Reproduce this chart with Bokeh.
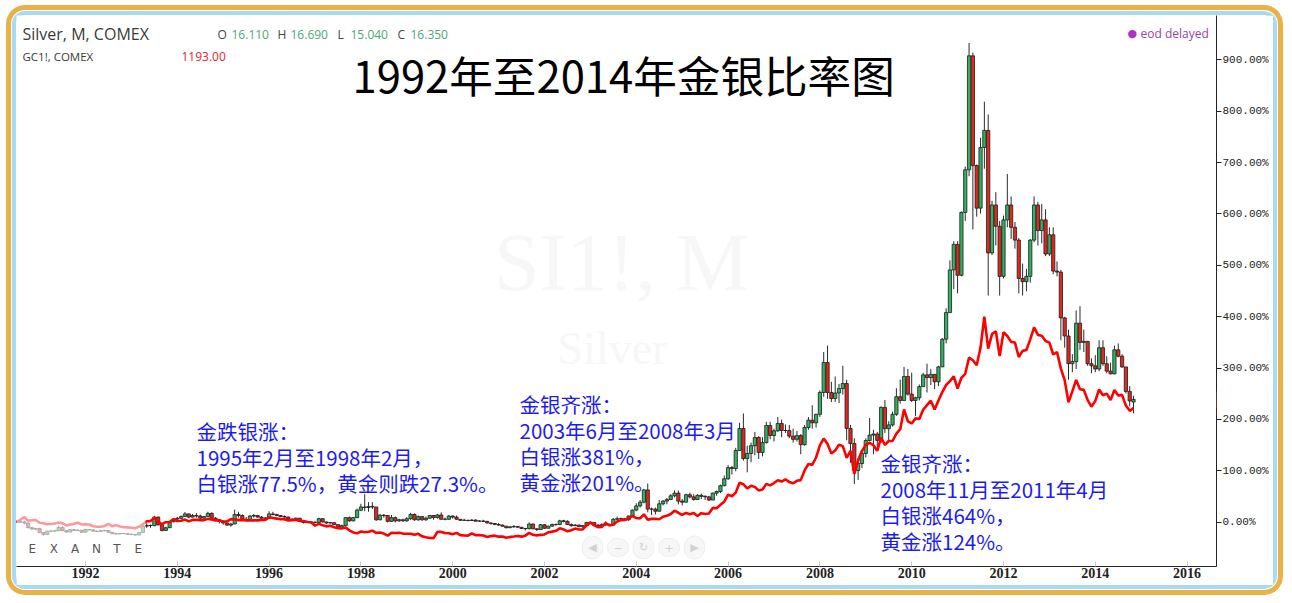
from bokeh.plotting import figure
from bokeh.models import (Range1d, FixedTicker, PrintfTickFormatter, Label,
                          BoxAnnotation, ColumnDataSource)
from bokeh.embed import file_html
from bokeh.resources import INLINE

# ---------------- DATA (monthly, Jul 1990 .. Nov 2014) ----------------
start_year, start_month = 1990, 7
silver_first_open = 4.90
silver_last_open = 16.11
silver_close = [
    4.822, 4.85, 4.75, 4.30, 4.18, 4.22,
    3.85, 3.68, 3.98, 3.98, 4.03, 4.33, 4.03, 3.90, 4.12, 4.05, 4.07, 3.88,
    4.14, 4.10, 3.98, 3.96, 4.03, 4.04, 3.88, 3.74, 3.72, 3.76, 3.75, 3.68,
    3.67, 3.62, 3.86, 4.45, 4.52, 4.50, 5.30, 4.58, 4.05, 4.30, 4.87, 5.12,
    5.19, 5.36, 5.60, 5.30, 5.45, 5.40, 5.20, 5.35, 5.65, 5.20, 5.05, 4.90,
    4.75, 4.55, 4.65, 5.55, 5.45, 5.10, 5.05, 5.40, 5.45, 5.30, 5.20, 5.20,
    5.60, 5.55, 5.45, 5.35, 5.30, 5.10, 5.05, 5.20, 4.95, 4.80, 4.85, 4.80,
    4.80, 5.15, 4.85, 4.75, 4.78, 4.60, 4.35, 4.50, 5.25, 4.95, 5.25, 5.95,
    6.25, 6.20, 6.30, 6.25, 5.05, 5.48, 5.45, 4.90, 5.25, 4.95, 5.05, 4.95,
    5.15, 5.55, 5.05, 5.35, 5.05, 5.20, 5.45, 5.27, 5.50, 5.10, 5.10, 5.40,
    5.30, 5.10, 5.00, 5.00, 4.98, 5.02, 4.92, 4.93, 4.90, 4.75, 4.70, 4.60,
    4.55, 4.45, 4.30, 4.39, 4.42, 4.35, 4.23, 4.21, 4.65, 4.20, 4.13, 4.58,
    4.25, 4.45, 4.60, 4.60, 4.95, 4.90, 4.60, 4.50, 4.55, 4.40, 4.50, 4.80,
    4.80, 4.55, 4.45, 4.62, 4.55, 4.55, 5.10, 5.15, 5.15, 5.05, 5.40, 5.96,
    6.35, 6.70, 7.85, 6.05, 6.05, 5.85, 6.55, 6.80, 6.95, 7.30, 7.55, 6.80,
    6.70, 7.40, 7.20, 6.95, 7.35, 7.25, 7.20, 6.90, 7.55, 7.70, 8.25, 8.90,
    9.95, 9.86, 11.55, 13.62, 10.80, 11.27, 12.00, 12.77, 11.37, 12.30, 13.90, 12.96,
    13.40, 14.09, 13.43, 13.43, 12.90, 12.60, 12.95, 12.10, 13.71, 14.40, 14.15, 14.95,
    17.00, 19.81, 17.00, 16.43, 16.95, 17.37, 17.84, 13.62, 12.21, 9.67, 10.33, 11.27,
    12.49, 13.00, 13.10, 12.50, 15.60, 13.60, 13.95, 14.95, 16.60, 16.25, 18.50, 16.85,
    16.25, 16.50, 17.55, 18.65, 18.40, 18.70, 18.00, 19.40, 22.00, 24.50, 28.50, 30.90,
    28.00, 33.90, 37.90, 48.60, 38.30, 34.30, 40.00, 41.60, 30.10, 34.60, 32.60, 27.90,
    33.20, 34.60, 32.50, 31.30, 27.70, 27.40, 27.90, 31.30, 34.60, 32.20, 33.20, 30.00,
    31.80, 28.40, 28.30, 24.00, 22.30, 19.70, 19.90, 23.50, 21.70, 21.80, 19.70, 19.50,
    19.20, 21.20, 19.70, 19.00, 18.75, 21.00, 20.40, 19.40, 17.10, 16.20, 16.35,
]
silver_high = [
    5.00, 5.10, 4.98, 4.78, 4.40, 4.30,
    4.30, 3.90, 4.02, 4.10, 4.10, 4.50, 4.45, 4.05, 4.20, 4.20, 4.15, 4.10,
    4.20, 4.20, 4.15, 4.05, 4.10, 4.10, 4.08, 3.90, 3.85, 3.80, 3.80, 3.78,
    3.75, 3.70, 3.90, 4.60, 4.70, 4.60, 5.42, 5.35, 4.60, 4.40, 4.95, 5.20,
    5.32, 5.45, 5.78, 5.65, 5.60, 5.68, 5.55, 5.40, 5.80, 5.75, 5.30, 5.10,
    4.95, 4.80, 4.75, 6.00, 5.80, 5.55, 5.30, 5.50, 5.60, 5.50, 5.40, 5.30,
    5.85, 5.80, 5.60, 5.50, 5.45, 5.35, 5.20, 5.25, 5.20, 4.95, 4.95, 4.90,
    4.95, 5.25, 5.20, 4.85, 4.85, 4.80, 4.60, 4.60, 5.30, 5.35, 5.30, 6.10,
    6.55, 7.45, 6.70, 6.70, 6.25, 5.60, 5.60, 5.50, 5.50, 5.35, 5.15, 5.15,
    5.30, 5.70, 5.65, 5.45, 5.40, 5.35, 5.50, 5.40, 5.60, 5.75, 5.25, 5.50,
    5.45, 5.45, 5.10, 5.15, 5.05, 5.10, 5.10, 5.00, 5.05, 4.95, 4.80, 4.75,
    4.75, 4.60, 4.45, 4.45, 4.55, 4.45, 4.35, 4.30, 4.80, 4.70, 4.25, 4.65,
    4.65, 4.50, 4.70, 4.70, 5.05, 5.05, 5.00, 4.70, 4.65, 4.60, 4.55, 4.85,
    4.90, 4.80, 4.65, 4.70, 4.90, 4.70, 5.20, 5.35, 5.25, 5.20, 5.45, 6.00,
    6.60, 6.90, 7.95, 8.45, 6.20, 6.20, 6.90, 6.90, 7.10, 7.45, 7.80, 7.80,
    7.00, 7.50, 7.60, 7.45, 7.45, 7.50, 7.35, 7.30, 7.60, 7.80, 8.35, 9.20,
    10.20, 10.10, 11.80, 14.15, 15.03, 12.00, 12.30, 13.30, 12.90, 12.80, 14.25, 14.25,
    13.60, 14.70, 14.45, 14.00, 13.95, 13.60, 13.40, 13.10, 13.95, 14.70, 15.80, 15.00,
    17.20, 20.80, 21.40, 18.00, 18.50, 17.80, 19.50, 18.20, 13.95, 12.70, 10.80, 11.60,
    12.70, 14.60, 13.50, 13.30, 15.70, 16.30, 14.30, 15.20, 17.40, 18.20, 19.40, 19.20,
    18.85, 16.60, 17.75, 18.85, 19.70, 19.20, 18.70, 19.50, 22.10, 24.90, 29.40, 31.20,
    31.20, 34.00, 38.20, 49.80, 48.90, 38.40, 40.90, 44.30, 43.10, 35.00, 35.80, 33.10,
    33.60, 37.50, 35.40, 33.00, 31.50, 29.10, 28.60, 31.40, 35.40, 34.90, 34.70, 34.20,
    32.50, 32.50, 29.30, 28.50, 24.10, 22.90, 20.60, 24.70, 25.10, 22.90, 21.80, 20.20,
    20.50, 21.90, 21.90, 20.40, 19.80, 21.40, 21.60, 20.60, 19.40, 17.60, 16.69,
]
silver_low = [
    4.75, 4.75, 4.60, 4.25, 4.10, 4.05,
    3.80, 3.55, 3.60, 3.90, 3.95, 3.98, 4.00, 3.85, 3.85, 4.00, 4.00, 3.85,
    3.85, 4.05, 3.95, 3.90, 3.95, 3.95, 3.85, 3.70, 3.65, 3.70, 3.70, 3.65,
    3.60, 3.55, 3.60, 3.85, 4.30, 4.30, 4.45, 4.50, 3.95, 4.00, 4.30, 4.80,
    5.00, 5.10, 5.30, 5.20, 5.25, 5.25, 5.15, 5.15, 5.30, 5.15, 5.00, 4.70,
    4.60, 4.50, 4.40, 4.65, 5.25, 5.05, 4.95, 5.00, 5.25, 5.25, 5.15, 5.05,
    5.15, 5.45, 5.40, 5.30, 5.25, 5.05, 4.95, 5.00, 4.90, 4.70, 4.75, 4.70,
    4.70, 4.75, 4.80, 4.65, 4.70, 4.55, 4.20, 4.30, 4.50, 4.85, 4.90, 5.20,
    5.85, 5.85, 5.80, 6.05, 4.95, 5.00, 5.25, 4.80, 4.85, 4.80, 4.85, 4.85,
    4.85, 5.05, 4.95, 4.95, 4.95, 4.95, 5.15, 5.05, 5.15, 5.05, 5.00, 5.05,
    5.15, 5.05, 4.95, 4.95, 4.90, 4.95, 4.90, 4.85, 4.85, 4.70, 4.60, 4.55,
    4.50, 4.40, 4.25, 4.30, 4.30, 4.30, 4.20, 4.05, 4.15, 4.15, 4.00, 4.10,
    4.20, 4.25, 4.40, 4.50, 4.55, 4.80, 4.60, 4.40, 4.45, 4.35, 4.30, 4.40,
    4.75, 4.55, 4.35, 4.45, 4.50, 4.50, 4.55, 5.05, 5.00, 4.95, 4.95, 5.35,
    5.85, 6.20, 6.60, 5.75, 5.50, 5.55, 5.85, 6.40, 6.50, 6.90, 7.15, 6.50,
    6.40, 6.70, 7.05, 6.85, 6.90, 7.00, 6.90, 6.80, 6.90, 7.30, 7.55, 8.20,
    8.80, 9.30, 9.60, 11.55, 10.60, 9.50, 10.45, 11.10, 10.75, 11.00, 12.20, 12.60,
    12.40, 13.30, 12.80, 13.20, 12.70, 12.30, 12.40, 11.20, 12.00, 13.50, 13.60, 13.70,
    14.70, 16.60, 16.40, 16.10, 16.10, 16.00, 16.80, 12.50, 10.40, 8.40, 8.80, 9.90,
    10.90, 12.40, 11.20, 11.70, 12.25, 13.20, 12.50, 13.80, 14.80, 15.95, 16.20, 16.70,
    16.10, 14.80, 16.25, 17.50, 17.00, 17.70, 17.30, 17.60, 19.40, 21.60, 24.80, 26.70,
    26.30, 27.90, 33.10, 37.30, 32.30, 33.50, 33.80, 38.00, 26.10, 29.90, 30.80, 26.10,
    27.70, 32.50, 31.40, 30.50, 26.30, 26.10, 26.50, 27.30, 31.10, 30.80, 31.00, 29.80,
    29.80, 28.10, 27.90, 21.90, 21.20, 18.20, 18.90, 19.20, 21.00, 20.80, 19.50, 18.80,
    18.90, 19.00, 19.50, 18.80, 18.70, 18.70, 20.30, 19.30, 16.90, 15.70, 15.04,
]
gold_close = [
    370.0, 387, 408, 380, 384, 386,
    366, 363, 355, 357, 360, 368, 362, 347, 354, 358, 366, 353,
    354, 353, 341, 337, 337, 343, 357, 340, 349, 339, 334, 333,
    330, 327, 337, 355, 377, 378, 401, 372, 356, 370, 371, 391,
    379, 381, 389, 376, 387, 388, 384, 385, 394, 389, 383, 383,
    375, 376, 392, 389, 385, 387, 383, 382, 384, 383, 387, 387,
    405, 400, 396, 392, 391, 382, 385, 387, 379, 379, 371, 369,
    345, 358, 348, 340, 345, 334, 326, 325, 332, 311, 296, 290,
    303, 297, 301, 309, 293, 296, 288, 273, 294, 292, 294, 288,
    287, 287, 279, 286, 268, 261, 256, 255, 299, 300, 292, 290,
    283, 293, 277, 274, 273, 289, 277, 277, 274, 264, 270, 273,
    266, 267, 258, 264, 267, 271, 266, 273, 293, 279, 275, 279,
    282, 297, 302, 308, 326, 318, 304, 312, 324, 317, 318, 347,
    368, 347, 334, 336, 364, 346, 354, 375, 385, 386, 398, 416,
    400, 397, 427, 387, 394, 395, 391, 409, 416, 429, 453, 438,
    422, 437, 428, 436, 415, 435, 429, 433, 473, 470, 495, 518,
    569, 557, 583, 654, 643, 613, 632, 624, 599, 605, 646, 635,
    652, 672, 663, 679, 659, 650, 668, 673, 743, 789, 783, 836,
    923, 972, 933, 865, 887, 928, 918, 833, 884, 718, 816, 884,
    927, 942, 924, 884, 980, 927, 955, 955, 1008, 1040, 1182, 1097,
    1081, 1118, 1113, 1180, 1213, 1245, 1181, 1247, 1307, 1358, 1386, 1421,
    1333, 1410, 1439, 1556, 1536, 1500, 1628, 1850, 1620, 1725, 1746, 1566,
    1738, 1711, 1669, 1664, 1560, 1604, 1610, 1687, 1773, 1719, 1713, 1675,
    1663, 1578, 1595, 1476, 1393, 1234, 1312, 1395, 1327, 1323, 1250, 1202,
    1244, 1326, 1284, 1296, 1250, 1322, 1282, 1287, 1210, 1172, 1193,
]
year_ticks = list(range(1992, 2017, 2))
pct_ticks = [0, 100, 200, 300, 400, 500, 600, 700, 800, 900]

# ---------------- derived (percent change vs first bar) ----------------
n = len(silver_close)
assert n == len(silver_high) == len(silver_low) == len(gold_close)
t = [start_year + (start_month - 1 + i) / 12.0 for i in range(n)]
silver_open = [silver_first_open] + silver_close[:-1]
silver_open[-1] = silver_last_open
sb, gb = silver_close[0], gold_close[0]
pc = lambda v, b: (v / b - 1.0) * 100.0
o = [pc(v, sb) for v in silver_open]
c = [pc(v, sb) for v in silver_close]
h = [pc(v, sb) for v in silver_high]
l = [pc(v, sb) for v in silver_low]
g = [pc(v, gb) for v in gold_close]
up = [cc >= oo for oo, cc in zip(o, c)]
col = ["#2fb262" if u else "#e3261e" for u in up]

src = ColumnDataSource(dict(t=t, o=o, c=c, h=h, l=l, col=col))

# ---------------- layout constants (page pixels) ----------------
PX_YEAR = 45.9
X_LEFT = 1990.497
X_RIGHT = X_LEFT + 1200 / PX_YEAR
PX_PCT = 0.5137
Y0 = 521.7
Y_BOT = -(566 - Y0) / PX_PCT
Y_TOP = (Y0 - 15) / PX_PCT


def xd(px):
    return X_LEFT + (px - 16) / PX_YEAR


def yd(py):
    return (Y0 - py) / PX_PCT


p = figure(frame_width=1200, frame_height=551, x_range=Range1d(X_LEFT, X_RIGHT),
           y_range=Range1d(Y_BOT, Y_TOP), y_axis_location="right",
           toolbar_location=None, output_backend="svg",
           min_border_left=0, min_border_right=57, min_border_top=0,
           min_border_bottom=19, outline_line_color=None,
           background_fill_color="white", border_fill_color="white",
           margin=(15, 0, 0, 16),
           styles={"border-radius": "9px",
                   "box-shadow": "0 0 0 4px #a9daf4, 0 0 0 5px #ffffff, 0 0 0 10px #e9b247"})
p.xgrid.visible = False
p.ygrid.visible = False

xa = p.xaxis[0]
xa.ticker = FixedTicker(ticks=year_ticks)
xa.formatter = PrintfTickFormatter(format="%d")
xa.major_tick_in = 5
xa.major_tick_out = 0
xa.minor_tick_line_color = None
xa.major_tick_line_color = "#c8c8c8"
xa.axis_line_color = "#222222"
xa.major_label_text_font = "Liberation Serif"
xa.major_label_text_font_style = "bold"
xa.major_label_text_font_size = "14px"
xa.major_label_text_color = "#222222"
xa.major_label_standoff = 1

ya = p.yaxis[0]
ya.ticker = FixedTicker(ticks=pct_ticks)
ya.formatter = PrintfTickFormatter(format="%.2f%%")
ya.major_tick_in = 0
ya.major_tick_out = 5
ya.minor_tick_line_color = None
ya.axis_line_color = "#222222"
ya.major_tick_line_color = "#222222"
ya.major_label_text_font = "Liberation Mono"
ya.major_label_text_font_size = "11px"
ya.major_label_text_color = "#222222"
ya.major_label_standoff = 1

# watermark
p.add_layout(Label(x=xd(621), y=yd(262), text="SI1!, M", text_align="center",
                   text_baseline="middle", text_font="Liberation Serif",
                   text_font_size="82px", text_color="#f7f7f7", level="underlay"))
p.add_layout(Label(x=xd(612), y=yd(348), text="Silver", text_align="center",
                   text_baseline="middle", text_font="Liberation Serif",
                   text_font_size="46px", text_color="#f7f7f7", level="underlay"))

# candles
p.segment(x0="t", y0="l", x1="t", y1="h", source=src, line_color="#2a2a2a", line_width=1)
p.vbar(x="t", width=0.85 / 12, top="o", bottom="c", source=src,
       fill_color="col", line_color="#1c1c1c", line_width=0.8)
# gold
p.line(t, g, line_color="#ff0000", line_width=2.6)

# logo veil
p.add_layout(BoxAnnotation(left=xd(16), right=xd(145), top=yd(507), bottom=yd(541),
                           fill_color="white", fill_alpha=0.6, line_color=None,
                           level="overlay"))
for k, letter in enumerate("EXANTE"):
    p.add_layout(Label(x=xd(28 + 21.2 * k), y=yd(548), text=letter,
                       text_baseline="middle", text_font="DejaVu Sans",
                       text_font_size="12px", text_color="#555555"))

# faint navigation buttons
for k, sym in enumerate(["◀", "−", "↻", "+", "▶"]):
    p.add_layout(Label(x=xd(592 + 25.5 * k), y=yd(547), text=sym, text_align="center",
                       text_baseline="middle", text_font="DejaVu Sans",
                       text_font_size="11px", text_color="#d2d2d2",
                       background_fill_color="#f7f7f7", border_line_color="#eeeeee",
                       border_radius=11, padding=(6, 5)))

CJK = "Noto Sans CJK SC"
p.add_layout(Label(x=xd(352), y=yd(73), text="1992年至2014年金银比率图",
                   text_baseline="middle", text_font=CJK, text_font_size="43.6px",
                   text_color="#000000"))

blue = "#1c1cf0"
notes = [
    (196, 430, ["金跌银涨：", "1995年2月至1998年2月，", "白银涨77.5%，黄金则跌27.3%。"]),
    (519, 403, ["金银齐涨：", "2003年6月至2008年3月", "白银涨381%，", "黄金涨201%。"]),
    (880, 462, ["金银齐涨：", "2008年11月至2011年4月", "白银涨464%，", "黄金涨124%。"]),
]
for px, py, lines in notes:
    for k, s in enumerate(lines):
        p.add_layout(Label(x=xd(px), y=yd(py + 26.3 * k), text=s, text_baseline="middle",
                           text_font=CJK, text_font_size="20.5px", text_color=blue))

# header
p.add_layout(Label(x=xd(22), y=yd(33), text="Silver, M, COMEX", text_baseline="middle",
                   text_font="Open Sans", text_font_size="16px", text_color="#3a3a3a"))
hdr = [(217, "O", "#444444"), (231, "16.110", "#4aa874"), (277, "H", "#444444"),
       (290, "16.690", "#4aa874"), (337, "L", "#444444"), (350, "15.040", "#4aa874"),
       (397, "C", "#444444"), (410, "16.350", "#4aa874")]
for px, s, cl in hdr:
    p.add_layout(Label(x=xd(px), y=yd(34), text=s, text_baseline="middle",
                       text_font="Open Sans", text_font_size="12px", text_color=cl))
p.add_layout(Label(x=xd(22), y=yd(56), text="GC1!, COMEX", text_baseline="middle",
                   text_font="Open Sans", text_font_size="11.5px", text_color="#3a3a3a"))
p.add_layout(Label(x=xd(181), y=yd(56), text="1193.00", text_baseline="middle",
                   text_font="Open Sans", text_font_size="12px", text_color="#e8222e"))
p.add_layout(Label(x=xd(1127), y=yd(33), text="●", text_baseline="middle",
                   text_font="DejaVu Sans", text_font_size="11px", text_color="#b22fc6"))
p.add_layout(Label(x=xd(1140), y=yd(33), text="eod delayed", text_baseline="middle",
                   text_font="Open Sans", text_font_size="12px", text_color="#9b3fa3"))

# last-value tags on the right scale
p.add_layout(Label(x=xd(1216), y=g[-1], text="%.2f%%" % g[-1], text_baseline="middle",
                   text_font="Liberation Mono", text_font_size="11px", text_color="white",
                   background_fill_color="#ff0000", padding=2))
p.add_layout(Label(x=xd(1216), y=c[-1], text="%.2f%%" % c[-1], text_baseline="middle",
                   text_font="Liberation Mono", text_font_size="11px", text_color="white",
                   background_fill_color="#4cb57c", padding=2))

open("out.html", "w").write(file_html(p, INLINE))
